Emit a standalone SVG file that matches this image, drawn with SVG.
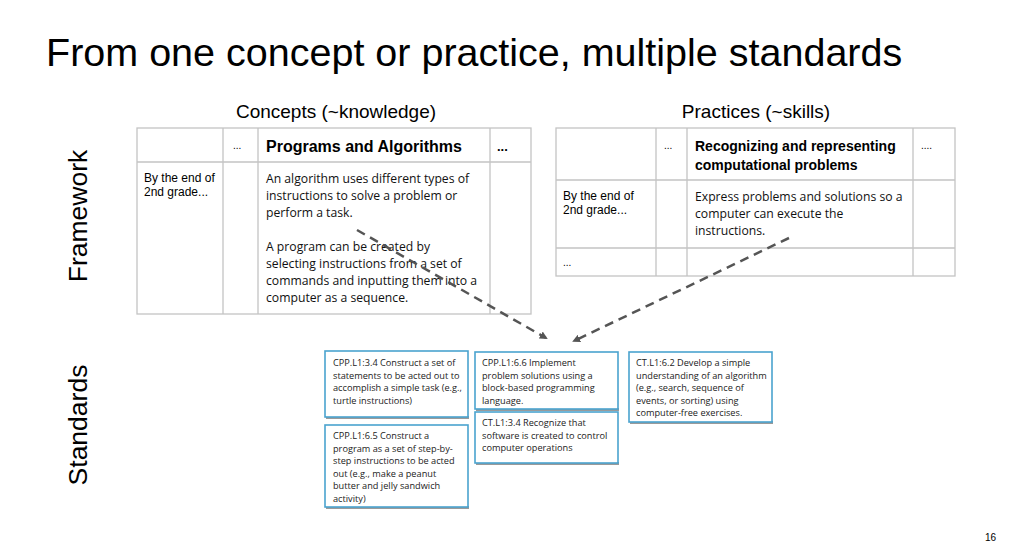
<svg xmlns="http://www.w3.org/2000/svg" width="1024" height="549" viewBox="0 0 1024 549">
<defs>
<style>
.t{font-family:"Liberation Sans",Arial,sans-serif;fill:#000}
.c{font-family:"Open Sans","Liberation Sans",sans-serif;fill:#111;font-size:12.2px}
.s{font-family:"Open Sans","Liberation Sans",sans-serif;fill:#222;font-size:9.2px}
.g{stroke:#c4c4c4;stroke-width:1.3;fill:none}
.b{fill:#fff;stroke:#4aa3cf;stroke-width:1.6}
.sh{fill:#9a9a9a}
.a{stroke:#555;stroke-width:2.5;stroke-dasharray:9,6;fill:none}
</style>
<marker id="ah" markerWidth="8" markerHeight="8" refX="6" refY="4" orient="auto" markerUnits="userSpaceOnUse" viewBox="0 0 8 8"><path d="M0,0L8,4L0,8z" fill="#555"/></marker>
</defs>
<rect width="1024" height="549" fill="#fff"/>
<text class="t" x="46" y="66" font-size="39.5">From one concept or practice, multiple standards</text>
<text class="t" x="336" y="118" font-size="19" text-anchor="middle">Concepts (~knowledge)</text>
<text class="t" x="756" y="118" font-size="19" text-anchor="middle">Practices (~skills)</text>
<text class="t" transform="translate(87,216) rotate(-90)" font-size="26.5" text-anchor="middle">Framework</text>
<text class="t" transform="translate(87,425) rotate(-90)" font-size="26.5" text-anchor="middle">Standards</text>
<text class="t" x="985" y="541" font-size="10">16</text>

<g id="concepts-table">
<rect class="g" x="137" y="128" width="394" height="186"/>
<path class="g" d="M137,162H531M223,128V314M258,128V314M490,128V314"/>
<text class="t" x="233" y="149" font-size="10" fill="#666">...</text>
<text class="t" x="266" y="152" font-size="16" font-weight="bold">Programs and Algorithms</text>
<text class="t" x="497" y="151" font-size="13" font-weight="bold">...</text>
<text class="t" x="144" y="182" font-size="12">By the end of</text>
<text class="t" x="144" y="196" font-size="12">2nd grade...</text>
<text class="c" x="266" y="183">An algorithm uses different types of</text>
<text class="c" x="266" y="200">instructions to solve a problem or</text>
<text class="c" x="266" y="217">perform a task.</text>
<text class="c" x="266" y="251">A program can be created by</text>
<text class="c" x="266" y="268">selecting instructions from a set of</text>
<text class="c" x="266" y="285">commands and inputting them into a</text>
<text class="c" x="266" y="302">computer as a sequence.</text>
</g>

<g id="practices-table">
<rect class="g" x="556" y="128" width="399" height="148"/>
<path class="g" d="M556,180H955M556,248H955M656,128V276M687,128V276M913,128V276"/>
<text class="t" x="664" y="149" font-size="10" fill="#666">...</text>
<text class="t" x="695" y="151" font-size="14" font-weight="bold">Recognizing and representing</text>
<text class="t" x="695" y="170" font-size="14" font-weight="bold">computational problems</text>
<text class="t" x="921" y="149" font-size="10" fill="#666">....</text>
<text class="t" x="563" y="200" font-size="12">By the end of</text>
<text class="t" x="563" y="214" font-size="12">2nd grade...</text>
<text class="c" x="695" y="201">Express problems and solutions so a</text>
<text class="c" x="695" y="218">computer can execute  the</text>
<text class="c" x="695" y="235">instructions.</text>
<text class="t" x="563" y="266" font-size="10" fill="#666">...</text>
</g>

<g id="connectors">
<path class="a" d="M357,230L546,338" marker-end="url(#ah)"/>
<path class="a" d="M789,238L574,341" marker-end="url(#ah)"/>
</g>

<g id="std-cpp-3-4">
<rect class="sh" x="326" y="416" width="143" height="3"/>
<rect class="b" x="325" y="351" width="143" height="66"/>
<text class="s" x="333" y="366">CPP.L1:3.4 Construct a set of</text>
<text class="s" x="333" y="378.5">statements to be acted out to</text>
<text class="s" x="333" y="391">accomplish a simple task (e.g.,</text>
<text class="s" x="333" y="403.5">turtle instructions)</text>
</g>
<g id="std-cpp-6-5">
<rect class="sh" x="326" y="506" width="143" height="3"/>
<rect class="b" x="325" y="425" width="143" height="82"/>
<text class="s" x="333" y="439">CPP.L1:6.5 Construct a</text>
<text class="s" x="333" y="451.5">program as a set of step-by-</text>
<text class="s" x="333" y="464">step instructions to be acted</text>
<text class="s" x="333" y="476.5">out (e.g., make a peanut</text>
<text class="s" x="333" y="489">butter and jelly sandwich</text>
<text class="s" x="333" y="501.5">activity)</text>
</g>
<g id="std-cpp-6-6">
<rect class="sh" x="476" y="408" width="143" height="3"/>
<rect class="b" x="475" y="352" width="143" height="57"/>
<text class="s" x="482" y="366">CPP.L1:6.6 Implement</text>
<text class="s" x="482" y="378.5">problem solutions using a</text>
<text class="s" x="482" y="391">block-based programming</text>
<text class="s" x="482" y="403.5">language.</text>
</g>
<g id="std-ct-3-4">
<rect class="sh" x="476" y="462" width="143" height="3"/>
<rect class="b" x="475" y="412" width="143" height="51"/>
<text class="s" x="482" y="426">CT.L1:3.4 Recognize that</text>
<text class="s" x="482" y="438.5">software is created to control</text>
<text class="s" x="482" y="451">computer operations</text>
</g>
<g id="std-ct-6-2">
<rect class="sh" x="630" y="421" width="143" height="3"/>
<rect class="b" x="629" y="352" width="143" height="70"/>
<text class="s" x="636" y="366">CT.L1:6.2 Develop a simple</text>
<text class="s" x="636" y="378.5">understanding of an algorithm</text>
<text class="s" x="636" y="391">(e.g., search, sequence of</text>
<text class="s" x="636" y="403.5">events, or sorting) using</text>
<text class="s" x="636" y="416">computer-free exercises.</text>
</g>
</svg>
